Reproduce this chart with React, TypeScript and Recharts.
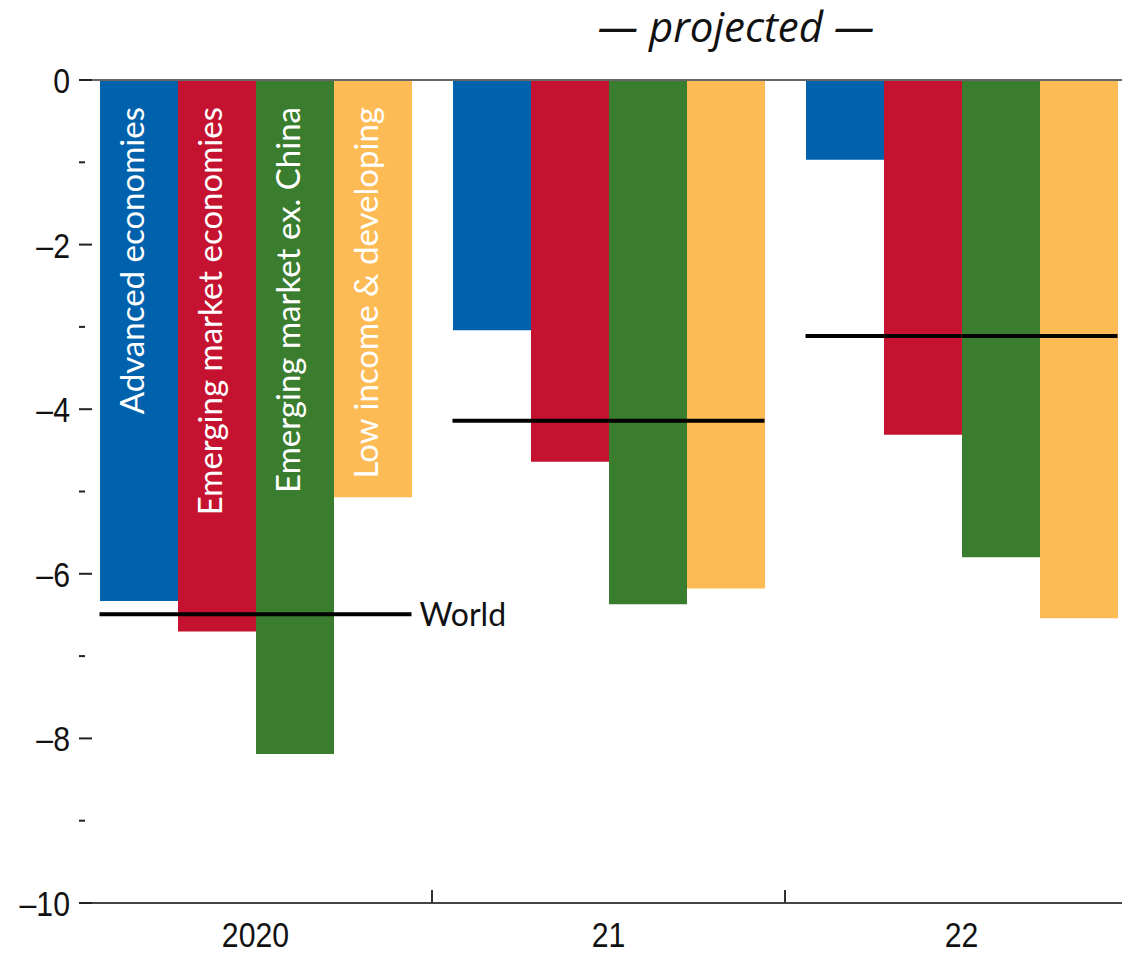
import { ComposedChart, Bar, Scatter, XAxis, YAxis, ReferenceLine, LabelList } from 'recharts'

const categories = ['2020', '21', '22']
const advanced = [-6.33, -3.04, -0.97]
const emerging = [-6.7, -4.64, -4.31]
const emergingExChina = [-8.19, -6.37, -5.8]
const lowIncome = [-5.07, -6.18, -6.54]
const world = [-6.49, -4.14, -3.11]

const seriesNames = [
  'Advanced economies',
  'Emerging market economies',
  'Emerging market ex. China',
  'Low income & developing',
]
const yTicks = [0, -1, -2, -3, -4, -5, -6, -7, -8, -9, -10]

const data = categories.map((year, i) => ({
  year,
  adv: advanced[i],
  em: emerging[i],
  emx: emergingExChina[i],
  lic: lowIncome[i],
  world: world[i],
}))

// no condensed face installed, so squeeze Liberation Sans a bit
const NARROW = "'Liberation Sans Narrow', 'Liberation Sans', Arial, sans-serif"
const SQUEEZE = 0.84
const SANS = "Lato, 'Open Sans', sans-serif"
const BAR = 78

function YTick({ x, y, payload }: any) {
  const v = payload.value
  const major = v % 2 === 0
  return (
    <g>
      {major && (
        <text
          transform={`translate(${x} ${y + 13}) scale(${SQUEEZE} 1)`}
          textAnchor="end"
          fontSize={36}
          fontFamily={NARROW}
          fill="#111"
        >
          {v < 0 ? '\u2013' + Math.abs(v) : v}
        </text>
      )}
      <line x1={x + 9} x2={x + 9 + (major ? 13 : 6)} y1={y} y2={y} stroke="#222" strokeWidth={2} />
    </g>
  )
}

function XTick({ x, y, payload, index }: any) {
  const half = payload.offset ?? 176
  return (
    <g>
      {index > 0 && <line x1={x - half} x2={x - half} y1={y} y2={y - 13} stroke="#333" strokeWidth={2} />}
      <text
        transform={`translate(${x} ${y + 44}) scale(${SQUEEZE} 1)`}
        textAnchor="middle"
        fontSize={36}
        fontFamily={NARROW}
        fill="#111"
      >
        {payload.value}
      </text>
    </g>
  )
}

const nameLabel = (name: string) => (props: any) => {
  if (props.index !== 0) return null
  const top = Math.min(props.y, props.y + props.height)
  const cx = props.x + props.width / 2 + 5
  const ty = top + 27
  return (
    <text
      x={cx}
      y={ty}
      transform={`rotate(-90 ${cx} ${ty})`}
      textAnchor="end"
      fill="#fff"
      fontSize={33}
      fontFamily={SANS}
    >
      {name}
    </text>
  )
}

function WorldMark(props: any) {
  const { cx, cy, index } = props
  if (cx == null || cy == null) return null
  return (
    <g>
      <line x1={cx - 2 * BAR} x2={cx + 2 * BAR} y1={cy} y2={cy} stroke="#000" strokeWidth={4} />
      {index === 0 && (
        <text x={cx + 2 * BAR + 8} y={cy + 12} fontSize={32} fontFamily={SANS} fill="#111">
          World
        </text>
      )}
    </g>
  )
}

export default function App() {
  return (
    <div
      style={{
        position: 'fixed',
        left: 0,
        top: 0,
        width: 1122,
        height: 953,
        overflow: 'hidden',
        background: '#fff',
      }}
    >
      <div
        style={{
          position: 'absolute',
          left: 536,
          top: 2,
          width: 400,
          textAlign: 'center',
          fontFamily: "'Open Sans', Lato, sans-serif",
          fontStyle: 'italic',
          fontSize: 42,
          lineHeight: '48px',
          color: '#111',
          whiteSpace: 'nowrap',
          zIndex: 2,
        }}
      >
        — projected —
      </div>
      <ComposedChart
        width={1138}
        height={953}
        data={data}
        margin={{ top: 80, right: 0, bottom: 0, left: 0 }}
        barGap={0}
      >
        <XAxis
          dataKey="year"
          height={50}
          tickSize={0}
          tickMargin={0}
          axisLine={{ stroke: '#444', strokeWidth: 2 }}
          tickLine={false}
          tick={<XTick />}
        />
        <YAxis
          type="number"
          domain={[-10, 0]}
          ticks={yTicks}
          interval={0}
          width={79}
          tickSize={0}
          tickMargin={9}
          axisLine={false}
          tickLine={false}
          tick={<YTick />}
        />
        <Bar dataKey="adv" fill="#0061ad" barSize={BAR} isAnimationActive={false}>
          <LabelList content={nameLabel(seriesNames[0])} />
        </Bar>
        <Bar dataKey="em" fill="#c41230" barSize={BAR} isAnimationActive={false}>
          <LabelList content={nameLabel(seriesNames[1])} />
        </Bar>
        <Bar dataKey="emx" fill="#3a7d2e" barSize={BAR} isAnimationActive={false}>
          <LabelList content={nameLabel(seriesNames[2])} />
        </Bar>
        <Bar dataKey="lic" fill="#fdbb55" barSize={BAR} isAnimationActive={false}>
          <LabelList content={nameLabel(seriesNames[3])} />
        </Bar>
        <ReferenceLine y={0} stroke="#666" strokeWidth={2} />
        <Scatter dataKey="world" shape={<WorldMark />} isAnimationActive={false} />
      </ComposedChart>
    </div>
  )
}
